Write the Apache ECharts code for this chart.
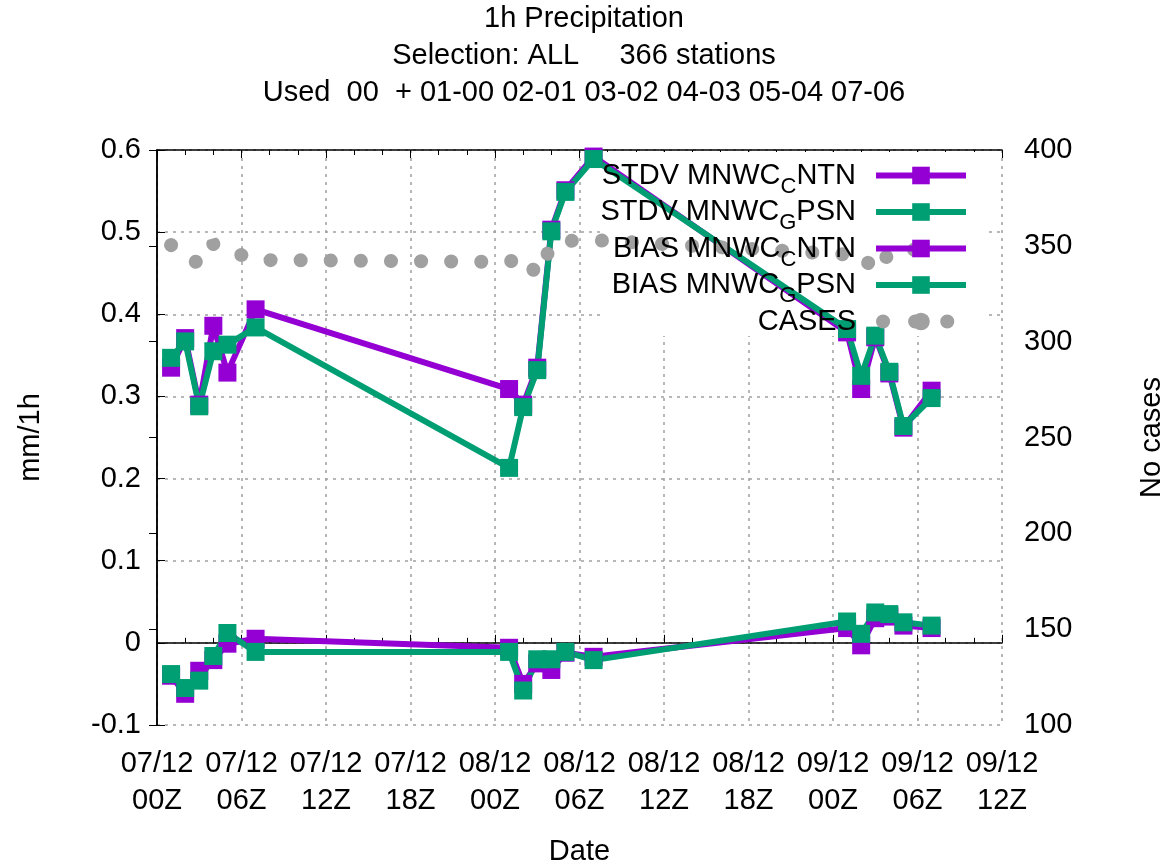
<!DOCTYPE html>
<html>
<head>
<meta charset="utf-8">
<script src="https://cdn.jsdelivr.net/npm/echarts@6/dist/echarts.min.js"></script>
<style>
  html, body { margin: 0; padding: 0; background: #fff; overflow: hidden; }
  #chart { width: 1168px; height: 865px; }
</style>
</head>
<body>
<div id="chart"></div>
<script>
/** ---------- data ---------- */
// hours after 07/12 00Z
var hours = [1, 2, 3, 4, 5, 7, 25, 26, 27, 28, 29, 31, 49, 50, 51, 52, 53, 55];

var stdvNTN = [0.335, 0.371, 0.290, 0.386, 0.329, 0.406, 0.309, 0.290, 0.335, 0.503, 0.551, 0.592, 0.378, 0.309, 0.372, 0.328, 0.262, 0.307];
var stdvPSN = [0.347, 0.367, 0.288, 0.355, 0.363, 0.384, 0.213, 0.287, 0.332, 0.501, 0.549, 0.589, 0.382, 0.325, 0.374, 0.330, 0.264, 0.298];
var biasNTN = [-0.040, -0.062, -0.034, -0.021, -0.001, 0.005, -0.006, -0.050, -0.025, -0.033, -0.012, -0.017, 0.018, -0.003, 0.030, 0.032, 0.021, 0.018];
var biasPSN = [-0.038, -0.055, -0.046, -0.016, 0.012, -0.011, -0.011, -0.058, -0.020, -0.020, -0.011, -0.021, 0.026, 0.011, 0.037, 0.035, 0.025, 0.021];
var cases = [350.4, 346.8, 340, 351, 347.8, 342.6, 341.6, 344.7, 334.8, 350, 352.5, 353, 345.5, 345.7, 336.4, 346.3, 347.8, 348.3];

var xTickLabels = ['07/12\n00Z', '07/12\n06Z', '07/12\n12Z', '07/12\n18Z', '08/12\n00Z', '08/12\n06Z',
    '08/12\n12Z', '08/12\n18Z', '09/12\n00Z', '09/12\n06Z', '09/12\n12Z'];

var titleLines = ['1h Precipitation', 'Selection: ALL     366 stations', 'Used  00  + 01-00 02-01 03-02 04-03 05-04 07-06'];

var PURPLE = '#9400d3';
var GREEN = '#009e73';
var GREY = '#a0a0a0';
var FONT = 'Liberation Sans';

function pairs(ys) {
    var out = [];
    for (var i = 0; i < hours.length; i++) {
        out.push([hours[i], ys[i]]);
    }
    return out;
}

function lineSeries(name, color, ys) {
    return {
        name: name,
        type: 'line',
        data: pairs(ys),
        symbol: 'rect',
        symbolSize: 18,
        animation: false,
        itemStyle: { color: color },
        lineStyle: { color: color, width: 6 }
    };
}

/** ---------- chart ---------- */
var chart = echarts.init(document.getElementById('chart'));

var option = {
    backgroundColor: '#fff',
    textStyle: { fontFamily: FONT },
    title: {
        text: titleLines.join('\n'),
        left: 'center',
        top: 0,
        padding: 0,
        textStyle: { fontSize: 29, fontWeight: 'normal', color: '#000', lineHeight: 37, fontFamily: FONT }
    },
    legend: {
        orient: 'vertical',
        align: 'right',
        right: 190,
        top: 156,
        itemWidth: 90,
        itemHeight: 22,
        itemGap: 0,
        formatter: function (name) {
            // gnuplot enhanced text: _X is a subscript
            var m = name.match(/^(.*)_(\w)(.*)$/);
            if (!m) return '{n|' + name + '}';
            return '{n|' + m[1] + '}{sub|' + m[2] + '}{n|' + m[3] + '}';
        },
        textStyle: {
            fontSize: 29, color: '#000', fontFamily: FONT, padding: [0, 15, 0, 0],
            rich: {
                n: { fontSize: 29, fontFamily: FONT, color: '#000', lineHeight: 44, verticalAlign: 'middle' },
                sub: { fontSize: 22, fontFamily: FONT, color: '#000', lineHeight: 20, verticalAlign: 'bottom' }
            }
        },
        data: [
            { name: 'STDV MNWC_CNTN', lineStyle: { width: 6, color: PURPLE } },
            { name: 'STDV MNWC_GPSN', lineStyle: { width: 6, color: GREEN } },
            { name: 'BIAS MNWC_CNTN', lineStyle: { width: 6, color: PURPLE } },
            { name: 'BIAS MNWC_GPSN', lineStyle: { width: 6, color: GREEN } },
            { name: 'CASES', lineStyle: { width: 14, color: GREY, type: [0.1, 32], cap: 'round', dashOffset: -7 } }
        ]
    },
    graphic: [{
        // key area hides the grid
        type: 'rect',
        z: 1,
        shape: { x: 600, y: 152, width: 387, height: 184 },
        style: { fill: '#fff' }
    }],
    grid: { left: 157, top: 150, right: 166, bottom: 140, outerBoundsMode: 'none' },
    xAxis: [{
        type: 'value',
        min: 0,
        max: 60,
        interval: 6,
        name: 'Date',
        nameLocation: 'middle',
        nameGap: 112,
        nameTextStyle: { fontSize: 29, color: '#000', fontFamily: FONT },
        axisLine: { lineStyle: { color: '#000', width: 1.5 } },
        axisTick: { inside: true, length: 8, lineStyle: { color: '#000' } },
        minorTick: { show: true, splitNumber: 3, length: 5, lineStyle: { color: '#000' } },
        axisLabel: {
            fontSize: 29, color: '#000', fontFamily: FONT, lineHeight: 37, margin: 20,
            formatter: function (v) { return xTickLabels[Math.round(v / 6)]; }
        },
        splitLine: { show: true, lineStyle: { color: GREY, type: [3, 5], width: 1.5 } }
    }, {
        type: 'value',
        position: 'top',
        min: 0,
        max: 60,
        interval: 6,
        axisLine: { lineStyle: { color: '#000', width: 1.5 } },
        axisTick: { inside: true, length: 8, lineStyle: { color: '#000' } },
        minorTick: { show: true, splitNumber: 3, length: 5, lineStyle: { color: '#000' } },
        axisLabel: { show: false },
        splitLine: { show: false }
    }],
    yAxis: [{
        type: 'value',
        min: -0.1,
        max: 0.6,
        interval: 0.1,
        name: 'mm/1h',
        nameLocation: 'middle',
        nameGap: 112,
        nameTextStyle: { fontSize: 29, color: '#000', fontFamily: FONT },
        axisLine: { show: true, lineStyle: { color: '#000', width: 1.5 } },
        axisTick: { show: true, inside: true, length: 8, lineStyle: { color: '#000' } },
        axisLabel: { fontSize: 29, color: '#000', fontFamily: FONT, margin: 16 },
        splitLine: { show: true, lineStyle: { color: GREY, type: [3, 5], width: 1.5 } }
    }, {
        type: 'value',
        position: 'right',
        min: 100,
        max: 400,
        interval: 50,
        name: 'No cases',
        nameLocation: 'middle',
        nameGap: 135,
        nameRotate: 90,
        nameTextStyle: { fontSize: 29, color: '#000', fontFamily: FONT },
        axisLine: { show: true, lineStyle: { color: '#000', width: 1.5 } },
        axisTick: { show: true, inside: true, length: 8, lineStyle: { color: '#000' } },
        axisLabel: { fontSize: 29, color: '#000', fontFamily: FONT, margin: 22 },
        splitLine: { show: false }
    }],
    series: [
        lineSeries('STDV MNWC_CNTN', PURPLE, stdvNTN),
        lineSeries('STDV MNWC_GPSN', GREEN, stdvPSN),
        lineSeries('BIAS MNWC_CNTN', PURPLE, biasNTN),
        lineSeries('BIAS MNWC_GPSN', GREEN, biasPSN),
        {
            name: 'CASES',
            type: 'line',
            yAxisIndex: 1,
            data: pairs(cases),
            symbol: 'none',
            animation: false,
            itemStyle: { color: GREY },
            lineStyle: { color: GREY, width: 14, type: [0.1, 30], cap: 'round' }
        }
    ]
};

chart.setOption(option);
window.onresize = function () {
    chart.resize();
};
</script>
</body>
</html>
